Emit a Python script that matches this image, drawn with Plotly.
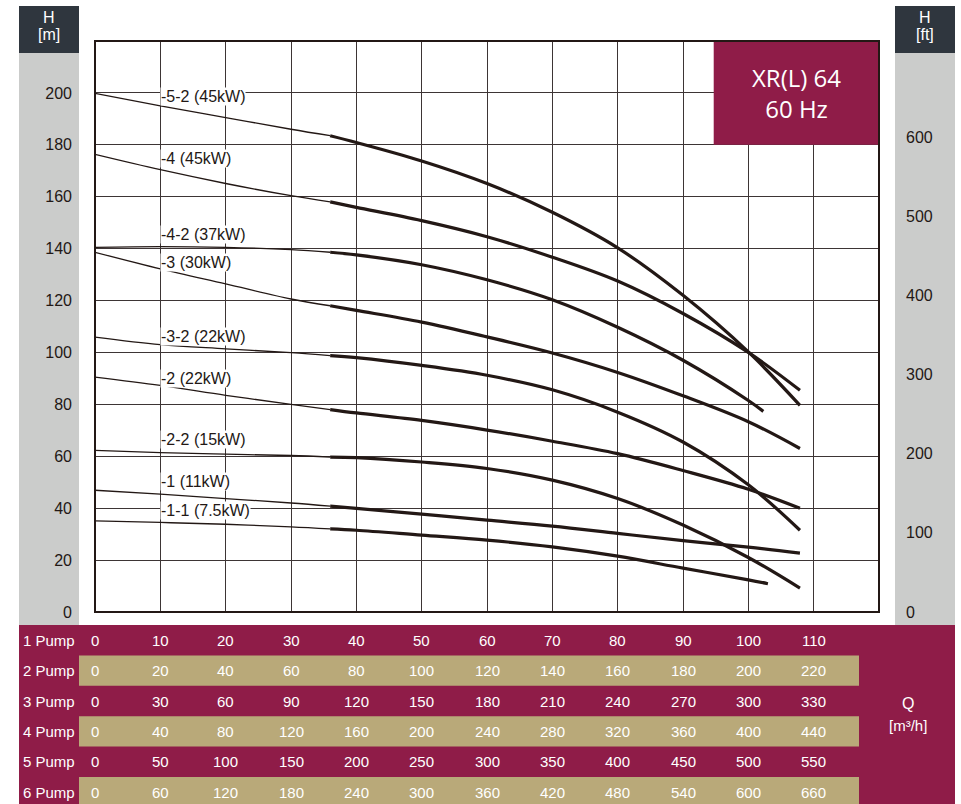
import plotly.graph_objects as go

# ---------------- data ----------------
curve_names = ["-5-2 (45kW)", "-4 (45kW)", "-4-2 (37kW)", "-3 (30kW)", "-3-2 (22kW)",
               "-2 (22kW)", "-2-2 (15kW)", "-1 (11kW)", "-1-1 (7.5kW)"]

q_52 = [0, 10, 20, 30, 36, 40, 50, 60, 70, 80, 90, 100, 107.9]
h_52 = [199.8, 195.0, 190.5, 186.0, 183.5, 180.9, 173.8, 165.1, 154.0, 140.3, 122.0, 100.2, 79.6]

q_4 = [0, 10, 20, 30, 36, 40, 50, 60, 70, 80, 90, 100, 107.9]
h_4 = [176.3, 170.4, 165.1, 160.4, 158.0, 155.9, 150.8, 144.6, 136.7, 127.5, 115.0, 100.0, 85.4]

q_42 = [0, 10, 20, 30, 36, 40, 50, 60, 70, 80, 90, 100, 102.3]
h_42 = [140.5, 140.8, 140.5, 139.6, 138.6, 137.6, 133.8, 128.0, 120.3, 109.7, 97.0, 81.5, 77.3]

q_3 = [0, 10, 20, 30, 36, 40, 50, 60, 70, 80, 90, 100, 107.9]
h_3 = [138.6, 132.2, 126.4, 120.6, 118.0, 116.2, 111.7, 106.0, 99.8, 92.3, 83.3, 73.3, 63.0]

q_32 = [0, 10, 20, 30, 36, 40, 50, 60, 70, 80, 90, 100, 107.9]
h_32 = [105.9, 103.0, 101.4, 99.9, 98.8, 98.0, 95.0, 91.2, 85.6, 77.0, 65.5, 49.0, 31.5]

q_2 = [0, 10, 20, 30, 36, 40, 50, 60, 70, 80, 90, 100, 107.9]
h_2 = [90.5, 87.3, 83.5, 80.0, 78.0, 76.7, 73.8, 70.1, 65.8, 61.0, 54.5, 47.3, 40.0]

q_22 = [0, 10, 20, 30, 36, 40, 50, 60, 70, 80, 90, 100, 107.9]
h_22 = [62.3, 61.4, 60.8, 60.3, 59.7, 59.5, 57.8, 55.3, 50.8, 43.7, 33.5, 21.0, 9.2]

q_1 = [0, 10, 20, 30, 36, 40, 50, 60, 70, 80, 90, 100, 107.9]
h_1 = [46.9, 45.4, 43.7, 42.0, 40.8, 39.9, 37.7, 35.4, 33.1, 30.3, 27.5, 25.0, 22.7]

q_11 = [0, 10, 20, 30, 36, 40, 50, 60, 70, 80, 90, 100, 103.0]
h_11 = [35.1, 34.5, 33.8, 32.8, 32.0, 31.5, 29.6, 27.7, 25.1, 21.5, 16.9, 12.4, 10.9]

curves_q = [q_52, q_4, q_42, q_3, q_32, q_2, q_22, q_1, q_11]
curves_h = [h_52, h_4, h_42, h_3, h_32, h_2, h_22, h_1, h_11]
thick_from_q = 36

h_m_ticks = [0, 20, 40, 60, 80, 100, 120, 140, 160, 180, 200]
h_ft_ticks = [0, 100, 200, 300, 400, 500, 600]
q_grid = [0, 10, 20, 30, 40, 50, 60, 70, 80, 90, 100, 110]

pump_labels = ["1 Pump", "2 Pump", "3 Pump", "4 Pump", "5 Pump", "6 Pump"]
row_1 = [0, 10, 20, 30, 40, 50, 60, 70, 80, 90, 100, 110]
row_2 = [0, 20, 40, 60, 80, 100, 120, 140, 160, 180, 200, 220]
row_3 = [0, 30, 60, 90, 120, 150, 180, 210, 240, 270, 300, 330]
row_4 = [0, 40, 80, 120, 160, 200, 240, 280, 320, 360, 400, 440]
row_5 = [0, 50, 100, 150, 200, 250, 300, 350, 400, 450, 500, 550]
row_6 = [0, 60, 120, 180, 240, 300, 360, 420, 480, 540, 600, 660]
table_rows = [row_1, row_2, row_3, row_4, row_5, row_6]

title_lines = ["XR(L) 64", "60 Hz"]

# ---------------- styling / geometry ----------------
W, H = 961, 804
PL, PR, PT, PB = 95, 879, 41, 612
X_MAX, Y_MAX = 120, 220
M_TO_FT = 1 / 0.3048

RED = "#8F1C48"
TAN = "#B9A979"
GRAY = "#CBCCCB"
DARK = "#2F363E"
INK = "#231815"
FONT = "Liberation Sans, Arial, sans-serif"


def px(x):
    return (x - PL) / (PR - PL)


def py(y):
    return (PB - y) / (PB - PT)


fig = go.Figure()

for name, qs, hs in zip(curve_names, curves_q, curves_h):
    thin_q = [q for q in qs if q <= thick_from_q]
    thin_h = [h for q, h in zip(qs, hs) if q <= thick_from_q]
    thick_q = [q for q in qs if q >= thick_from_q]
    thick_h = [h for q, h in zip(qs, hs) if q >= thick_from_q]
    fig.add_trace(go.Scatter(x=thin_q, y=thin_h, mode="lines", name=name,
                             line=dict(color=INK, width=1.3, shape="spline", smoothing=1.0),
                             showlegend=False, hoverinfo="skip"))
    fig.add_trace(go.Scatter(x=thick_q, y=thick_h, mode="lines", name=name,
                             line=dict(color=INK, width=3.2, shape="spline", smoothing=1.0),
                             showlegend=False))

# invisible trace for right axis
fig.add_trace(go.Scatter(x=[0], y=[0], yaxis="y2", mode="markers",
                         marker=dict(opacity=0), showlegend=False, hoverinfo="skip"))

shapes = []
# left & right gray panels with dark headers
for x0, x1 in [(19, 79), (895, 955)]:
    shapes.append(dict(type="rect", xref="paper", yref="paper", x0=px(x0), x1=px(x1),
                       y0=py(625), y1=py(53), fillcolor=GRAY, line_width=0, layer="below"))
    shapes.append(dict(type="rect", xref="paper", yref="paper", x0=px(x0), x1=px(x1),
                       y0=py(53), y1=py(6), fillcolor=DARK, line_width=0, layer="below"))
# table background
shapes.append(dict(type="rect", xref="paper", yref="paper", x0=px(19), x1=px(955),
                   y0=py(806), y1=py(625), fillcolor=RED, line_width=0, layer="below"))
row_h = 30.4
for i in range(6):
    if i % 2 == 1:
        shapes.append(dict(type="rect", xref="paper", yref="paper", x0=px(79), x1=px(859),
                           y0=py(625 + (i + 1) * row_h), y1=py(625 + i * row_h),
                           fillcolor=TAN, line_width=0, layer="below"))
# title box
shapes.append(dict(type="rect", xref="x", yref="y", x0=94.7, x1=X_MAX, y0=180, y1=Y_MAX,
                   fillcolor=RED, line_width=0, layer="above"))
# frame
shapes.append(dict(type="rect", xref="paper", yref="paper", x0=0, x1=1, y0=0, y1=1,
                   line=dict(color=INK, width=2), fillcolor="rgba(0,0,0,0)", layer="above"))

annotations = []
# curve labels
label_h = [198.5, 174.6, 145.4, 134.6, 106.2, 90.0, 66.5, 50.4, 39.2]
for name, yh in zip(curve_names, label_h):
    annotations.append(dict(x=10, y=yh, xref="x", yref="y", text=name, showarrow=False,
                            xanchor="left", yanchor="middle", bgcolor="white", borderpad=0,
                            font=dict(family=FONT, size=16, color=INK)))
# title
annotations.append(dict(x=(94.7 + X_MAX) / 2, y=200, xref="x", yref="y",
                        text=title_lines[0] + "<br>" + title_lines[1], showarrow=False,
                        xanchor="center", yanchor="middle",
                        font=dict(family="Open Sans, Noto Sans, sans-serif", size=24, color="white")))
# axis headers
for xc, unit in [(49, "[m]"), (925, "[ft]")]:
    annotations.append(dict(x=px(xc), y=py(18), xref="paper", yref="paper", text="H",
                            showarrow=False, xanchor="center", yanchor="middle",
                            font=dict(family=FONT, size=16, color="white")))
    annotations.append(dict(x=px(xc), y=py(35), xref="paper", yref="paper", text=unit,
                            showarrow=False, xanchor="center", yanchor="middle",
                            font=dict(family=FONT, size=16, color="white")))
# table
for i, (lab, vals) in enumerate(zip(pump_labels, table_rows)):
    yc = py(625 + (i + 0.5) * row_h)
    annotations.append(dict(x=px(49), y=yc, xref="paper", yref="paper", text=lab,
                            showarrow=False, xanchor="center", yanchor="middle",
                            font=dict(family=FONT, size=15, color="white")))
    for q, v in zip(q_grid, vals):
        annotations.append(dict(x=q, y=yc, xref="x", yref="paper", text=str(v),
                                showarrow=False, xanchor="center", yanchor="middle",
                                font=dict(family=FONT, size=15, color="white")))
annotations.append(dict(x=px(908), y=py(703), xref="paper", yref="paper", text="Q",
                        showarrow=False, xanchor="center", yanchor="middle",
                        font=dict(family=FONT, size=16, color="white")))
annotations.append(dict(x=px(908), y=py(725), xref="paper", yref="paper", text="[m³/h]",
                        showarrow=False, xanchor="center", yanchor="middle",
                        font=dict(family=FONT, size=15, color="white")))

fig.update_layout(
    width=W, height=H,
    margin=dict(l=PL, r=W - PR, t=PT, b=H - PB, pad=0),
    paper_bgcolor="white", plot_bgcolor="white",
    xaxis=dict(range=[0, X_MAX], tickvals=q_grid, showticklabels=False, ticks="",
               showgrid=True, gridcolor="#3d3535", gridwidth=1, zeroline=False,
               showline=False, fixedrange=True),
    yaxis=dict(range=[0, Y_MAX], tickvals=h_m_ticks, showgrid=True, gridcolor="#3d3535",
               gridwidth=1, zeroline=False, showline=False, ticks="",
               ticklabelstandoff=22, tickfont=dict(family=FONT, size=16, color=INK)),
    yaxis2=dict(range=[0, Y_MAX * M_TO_FT], tickvals=h_ft_ticks, overlaying="y",
                side="right", showgrid=False, zeroline=False, showline=False, ticks="",
                ticklabelstandoff=26, tickfont=dict(family=FONT, size=16, color=INK)),
    shapes=shapes, annotations=annotations, showlegend=False,
)

fig.write_html("out.html")
